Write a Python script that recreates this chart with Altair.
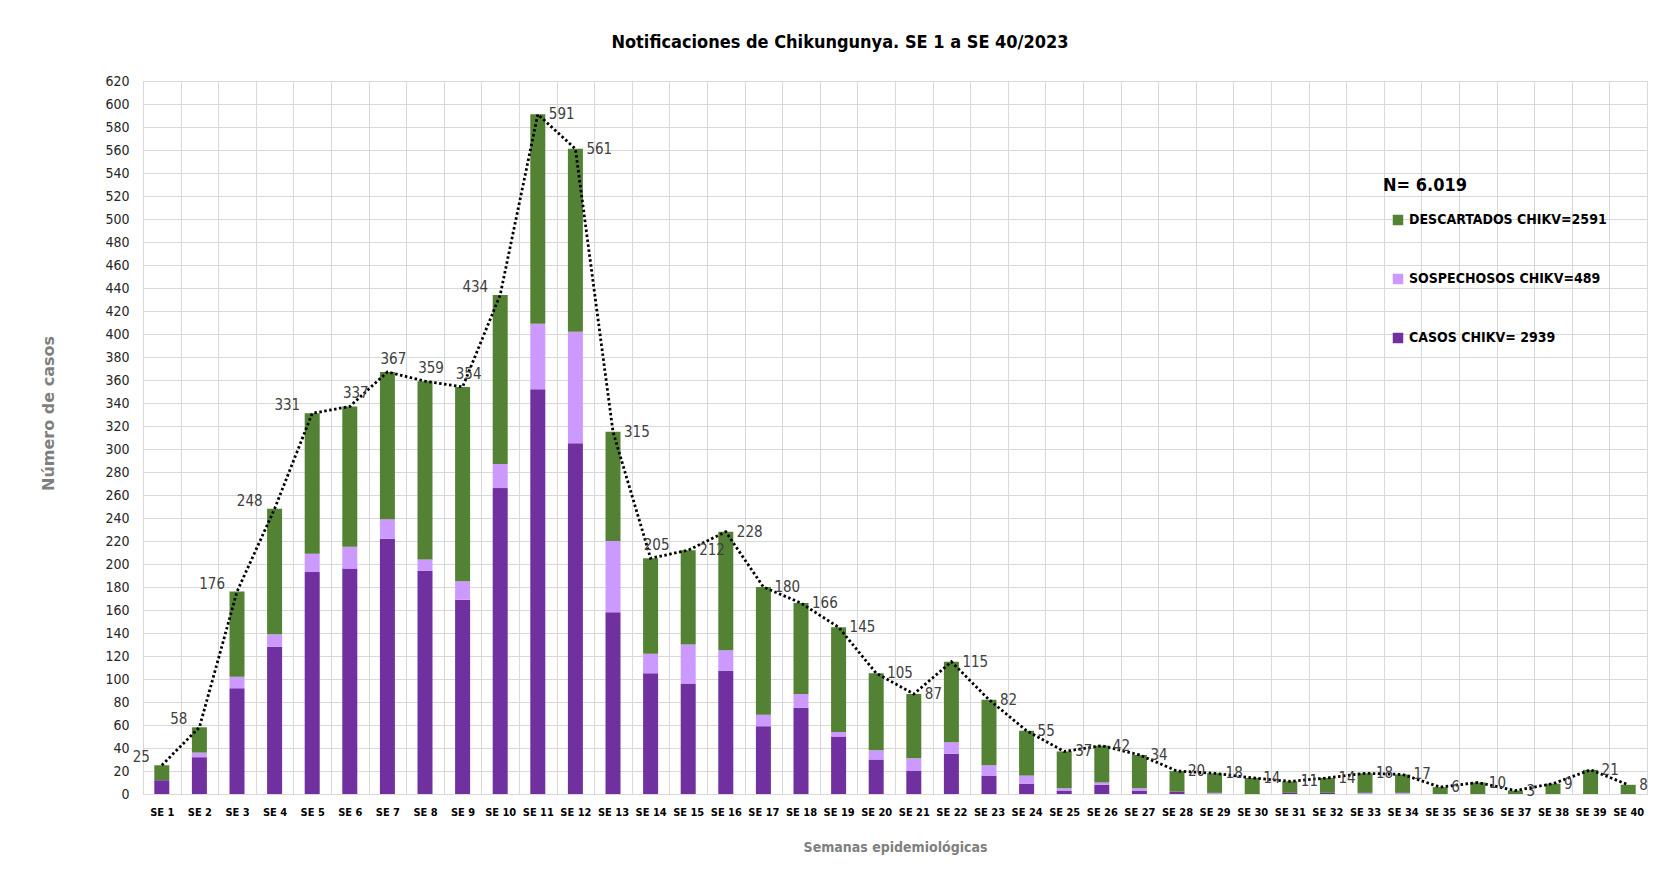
import altair as alt
import pandas as pd

semanas = [f"SE {i}" for i in range(1, 41)]

totales = [25, 58, 176, 248, 331, 337, 367, 359, 354, 434,
           591, 561, 315, 205, 212, 228, 180, 166, 145, 105,
           87, 115, 82, 55, 37, 42, 34, 20, 18, 14,
           11, 14, 18, 17, 6, 10, 3, 9, 21, 8]

casos = [12, 32, 92, 128, 193, 196, 222, 194, 169, 266,
         352, 305, 158, 105, 96, 107, 59, 75, 50, 30,
         20, 35, 16, 9, 3, 8, 3, 2, 0, 0,
         1, 1, 0, 0, 0, 0, 0, 0, 0, 0]

sospechosos = [0, 4, 10, 11, 16, 19, 17, 10, 16, 21,
               57, 97, 62, 17, 34, 18, 10, 12, 4, 8,
               11, 10, 9, 7, 2, 2, 2, 0, 1, 0,
               0, 0, 1, 1, 0, 0, 0, 0, 0, 0]

descartados = [13, 22, 74, 109, 122, 122, 128, 155, 169, 147,
               182, 159, 95, 83, 82, 103, 111, 79, 91, 67,
               56, 70, 57, 39, 32, 32, 29, 18, 17, 14,
               10, 13, 17, 16, 6, 10, 3, 9, 21, 8]

ticks_y = list(range(0, 621, 20))

series = ["DESCARTADOS CHIKV=2591", "SOSPECHOSOS CHIKV=489", "CASOS CHIKV= 2939"]
colores = ["#548235", "#CC99FF", "#7030A0"]

etiquetas_izq = ["SE 1", "SE 2", "SE 3", "SE 4", "SE 5", "SE 10"]
etiquetas_arriba = ["SE 6", "SE 7", "SE 8", "SE 9", "SE 14"]

rows = []
for i, s in enumerate(semanas):
    rows.append({"semana": s, "serie": series[2], "valor": casos[i], "orden": 0})
    rows.append({"semana": s, "serie": series[1], "valor": sospechosos[i], "orden": 1})
    rows.append({"semana": s, "serie": series[0], "valor": descartados[i], "orden": 2})
largo = pd.DataFrame(rows)
tot = pd.DataFrame({"semana": semanas, "total": totales})

FONT = "DejaVu Sans Condensed, Lato, sans-serif"

x = alt.X(
    "semana:N", sort=semanas,
    scale=alt.Scale(paddingInner=0, paddingOuter=0),
    axis=alt.Axis(
        tickBand="extent", grid=True, gridColor="#d9d9d9", ticks=False,
        domainColor="#d9d9d9", labelAngle=0, labelFont=FONT, labelFontSize=11,
        labelFontWeight="bold", labelColor="black", labelPadding=12,
        labelOverlap=False,
        title="Semanas epidemiológicas", titleFont=FONT, titleFontSize=14,
        titleColor="#7f7f7f", titleFontWeight="bold", titleY=53,
        titleBaseline="middle",
    ),
)

y_scale = alt.Scale(domain=[0, 620], nice=False)
y_axis = alt.Axis(
    values=ticks_y, grid=True, gridColor="#d9d9d9",
    ticks=False, domain=False, labelFont=FONT, labelFontSize=14,
    labelColor="#262626", labelPadding=14, labelOverlap=False,
    title="Número de casos", titleFont="DejaVu Sans", titleFontSize=16,
    titleColor="#7f7f7f", titleFontWeight="bold", titleX=-95, titleY=332,
    titleBaseline="middle", titleAlign="center",
)

bars = alt.Chart(largo).mark_bar(width=15).encode(
    x=x,
    y=alt.Y("valor:Q", stack="zero", scale=y_scale, axis=y_axis),
    color=alt.Color(
        "serie:N",
        scale=alt.Scale(domain=series, range=colores),
        legend=alt.Legend(
            orient="none", legendX=1240, legendY=96, title="N= 6.019",
            titleFont=FONT, titleFontSize=18, titleFontWeight="bold",
            titleColor="black", titlePadding=18, labelFont=FONT,
            labelFontSize=14, labelFontWeight="bold", labelColor="black",
            symbolType="square", symbolSize=110, symbolStrokeWidth=0,
            symbolOffset=8, rowPadding=45, labelOffset=4, labelLimit=400,
        ),
    ),
    order=alt.Order("orden:Q", sort="ascending"),
)

y_tot = alt.Y("total:Q", scale=y_scale, axis=y_axis)

line = alt.Chart(tot).mark_line(
    color="black", strokeDash=[2.5, 2.5], strokeWidth=2.8, interpolate="linear",
).encode(x=x, y=y_tot)

txt_style = dict(font=FONT, fontSize=15, color="#404040")

t_izq = alt.Chart(tot).transform_filter(
    alt.FieldOneOfPredicate(field="semana", oneOf=etiquetas_izq)
).mark_text(align="right", baseline="middle", dx=-12, dy=-8, **txt_style).encode(
    x=x, y=y_tot, text="total:Q")

t_arr = alt.Chart(tot).transform_filter(
    alt.FieldOneOfPredicate(field="semana", oneOf=etiquetas_arriba)
).mark_text(align="center", baseline="middle", dx=6, dy=-13, **txt_style).encode(
    x=x, y=y_tot, text="total:Q")

t_der = alt.Chart(tot).transform_filter(
    ~alt.FieldOneOfPredicate(field="semana", oneOf=etiquetas_izq + etiquetas_arriba)
).mark_text(align="left", baseline="middle", dx=11, dy=0, **txt_style).encode(
    x=x, y=y_tot, text="total:Q")

chart = alt.layer(bars, line, t_izq, t_arr, t_der).properties(
    width=1504, height=713,
    autosize="none",
    padding={"left": 135, "top": 73, "right": 11, "bottom": 70},
    title=alt.Title(
        "Notificaciones de Chikungunya. SE  1 a SE 40/2023",
        font=FONT, fontSize=18, fontWeight="bold", color="black",
        anchor="middle", dx=-55, offset=22,
    ),
).configure_view(stroke="#d9d9d9", strokeWidth=1).configure(background="white")

chart.save("out.html", embed_options={"renderer": "svg", "actions": False})
